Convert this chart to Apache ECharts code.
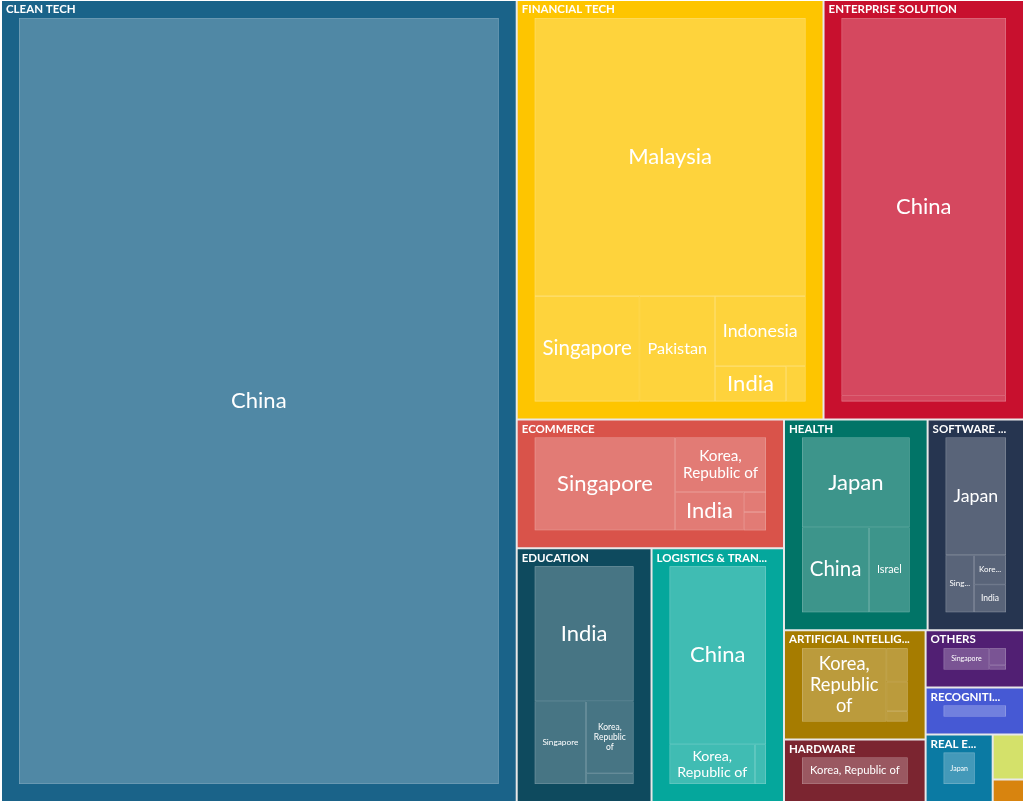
<!DOCTYPE html>
<html>
<head>
<meta charset="utf-8">
<script src="https://cdn.jsdelivr.net/npm/echarts/dist/echarts.min.js"></script>
<style>
html,body{margin:0;padding:0;background:#ffffff;}
#chart{width:1024px;height:802px;}
</style>
</head>
<body>
<div id="chart"></div>
<script>
// ---------------- DATA ----------------
const categories = [
  'Clean Tech', 'Financial Tech', 'Enterprise Solution', 'Ecommerce', 'Education',
  'Logistics & Transportation', 'Health', 'Software Development', 'Artificial Intelligence',
  'Hardware', 'Others', 'Recognition Technology', 'Real Estate', 'Media', 'Travel'
];
const countries = [
  ['China'],
  ['Malaysia', 'Singapore', 'Pakistan', 'Indonesia', 'India', 'Vietnam'],
  ['China', 'Singapore'],
  ['Singapore', 'Korea, Republic of', 'India', 'Philippines', 'Vietnam'],
  ['India', 'Singapore', 'Korea, Republic of', 'China'],
  ['China', 'Korea, Republic of', 'Singapore'],
  ['Japan', 'China', 'Israel'],
  ['Japan', 'Singapore', 'Korea, Republic of', 'India'],
  ['Korea, Republic of', 'China', 'Japan', 'Singapore'],
  ['Korea, Republic of'],
  ['Singapore', 'India', 'Japan'],
  ['China'],
  ['Japan'],
  ['Singapore'],
  ['Japan']
];
const values = [
  [4112],
  [928, 136, 98, 78, 31, 8.5],
  [823, 13],
  [208, 79, 42, 7.1, 6.5],
  [211, 67, 54, 8],
  [273, 54, 7],
  [155, 91, 55],
  [136, 31, 18, 17],
  [123, 14, 12.5, 4.3],
  [88],
  [41, 12, 3],
  [46],
  [45],
  [14],
  [7]
];

// ---------------- STYLE ----------------
const categoryColors = [
  '#1a6389', '#fec500', '#c8102e', '#d9534a', '#0e4a5e',
  '#05a79c', '#017467', '#263550', '#a67c00',
  '#7b2530', '#511f73', '#4659d4', '#0b7aa3', '#d4e16a', '#d8840f'
];
const gapColor = '#e8e8e8';
const FONT = 'Lato';

function mix(hex, t) {
  const n = parseInt(hex.slice(1), 16);
  const r = n >> 16, g = (n >> 8) & 255, b = n & 255;
  const f = c => Math.round(c + (255 - c) * t);
  return 'rgb(' + f(r) + ',' + f(g) + ',' + f(b) + ')';
}

// d3-style binary partition of a value-sorted list into nested pairs
function binaryNest(nodes, makeGroup) {
  if (nodes.length === 1) return nodes[0];
  const sums = [0];
  nodes.forEach((n, i) => sums.push(sums[i] + n.value));
  function part(i, j) {
    if (j - i === 1) return nodes[i];
    const value = sums[j] - sums[i];
    const target = value / 2 + sums[i];
    let k = i + 1, hi = j - 1;
    while (k < hi) {
      const mid = (k + hi) >>> 1;
      if (sums[mid] < target) k = mid + 1; else hi = mid;
    }
    if ((target - sums[k - 1]) < (sums[k] - target) && i + 1 < k) --k;
    const l = part(i, k), r = part(k, j);
    return makeGroup(l, r, l.value + r.value);
  }
  return part(0, nodes.length);
}

const upperBase = {
  show: true, height: 17, color: '#ffffff', fontFamily: FONT, fontWeight: 'bold',
  fontSize: 11.5, position: [-13, '50%'], verticalAlign: 'middle', align: 'left',
  padding: [0, -18, 0, 0], overflow: 'truncate', ellipsis: '...',
  formatter: p => p.name.toUpperCase()
};
const leafLabelBase = {
  show: true, color: '#ffffff', fontFamily: FONT, fontWeight: 'normal',
  position: 'inside', padding: 0, overflow: 'none'
};

const leafRefs = {};
const catRefs = {};

function buildData() {
  const cats = categories.map((name, ci) => {
    const col = categoryColors[ci];
    const leafColor = mix(col, 0.235);
    const lineColor = mix(col, 0.45);
    const leaves = countries[ci].map((c, li) => {
      const key = 'L' + ci + '_' + li;
      const obj = {
        name: c, value: values[ci][li], _leafKey: key,
        itemStyle: { color: leafColor, borderColor: lineColor, borderWidth: 0.6, gapWidth: 0 },
        label: { show: false }
      };
      leafRefs[key] = obj;
      return obj;
    }).sort((a, b) => b.value - a.value);
    const inner = binaryNest(leaves, (l, r, v) => ({
      name: name, value: v, children: [l, r],
      itemStyle: { borderWidth: 0, gapWidth: 0, borderColor: col, color: col },
      upperLabel: { show: false }, label: { show: false }
    }));
    const total = leaves.reduce((s, l) => s + l.value, 0);
    const cat = {
      name: name, value: total, _catKey: 'C' + ci, children: [inner],
      itemStyle: { borderWidth: 17, gapWidth: 0, borderColor: col, color: col },
      upperLabel: Object.assign({}, upperBase),
      label: { show: false }
    };
    catRefs['C' + ci] = cat;
    return cat;
  }).sort((a, b) => b.value - a.value);
  const top = binaryNest(cats, (l, r, v) => ({
    name: '', value: v, children: [l, r],
    itemStyle: { borderWidth: 0, gapWidth: 2, borderColor: gapColor, color: gapColor },
    upperLabel: { show: false }, label: { show: false }
  }));
  return top.children;
}

const seriesData = buildData();

const option = {
  animation: false,
  backgroundColor: '#ffffff',
  tooltip: { show: false },
  series: [{
    type: 'treemap',
    left: 2, top: 1, right: 1, bottom: 1,
    roam: false, nodeClick: false, drillDownIcon: '',
    breadcrumb: { show: false },
    sort: false, squareRatio: 1, visibleMin: 0,
    animation: false,
    levels: [{
      itemStyle: { borderWidth: 0, gapWidth: 2, borderColor: gapColor, color: gapColor },
      upperLabel: { show: false }, label: { show: false }
    }],
    data: seriesData
  }]
};

// ---------------- label fitting ----------------
const measureCtx = document.createElement('canvas').getContext('2d');
function textW(t, s) { measureCtx.font = s + 'px ' + FONT; return measureCtx.measureText(t).width; }
function wrap(text, aw, s) {
  const words = text.split(' ');
  const lines = []; let cur = '';
  for (const wd of words) {
    const cand = cur ? cur + ' ' + wd : wd;
    if (textW(cand, s) <= aw) cur = cand;
    else {
      if (!cur) return null;
      if (textW(wd, s) > aw) return null;
      lines.push(cur); cur = wd;
    }
  }
  if (cur) lines.push(cur);
  return lines;
}
function fitLabel(text, w, h) {
  if (w < 22 || h < 19) return null;
  const pad = Math.min(7, w * 0.2), vpad = 2, lh = 1.15;
  const aw = w - 2 * pad, ah = h - 2 * vpad;
  for (let s = 22; s >= 6.5; s -= 0.25) {
    const lines = aw > 0 ? wrap(text, aw, s) : null;
    if (lines && lines.length * s * lh <= ah) return { s: s, text: lines.join('\n') };
  }
  const s = 8, aw2 = w - 6;
  for (let n = text.length - 1; n >= 1; n--) {
    const t = text.slice(0, n).replace(/[\s,]+$/, '') + '...';
    if (textW(t, s) <= aw2) return { s: s, text: t };
  }
  return null;
}

const chart = echarts.init(document.getElementById('chart'), null, { renderer: 'canvas' });
chart.setOption(option);

try {
  const sm = chart.getModel().getSeriesByIndex(0);
  const d = sm.getData();
  for (let i = 0; i < d.count(); i++) {
    const raw = d.getRawDataItem(i);
    const lay = d.getItemLayout(i);
    if (!raw || !lay) continue;
    if (raw._leafKey && leafRefs[raw._leafKey]) {
      const obj = leafRefs[raw._leafKey];
      const bw = lay.borderWidth || 0;
      const fit = fitLabel(obj.name, lay.width - 2 * bw, lay.height - 2 * bw);
      obj.label = fit
        ? Object.assign({}, leafLabelBase, { fontSize: fit.s, lineHeight: Math.round(fit.s * 1.15 * 10) / 10, formatter: fit.text })
        : { show: false };
    }
    if (raw._catKey && catRefs[raw._catKey]) {
      if (lay.width < 45) catRefs[raw._catKey].upperLabel = { show: false };
    }
  }
} catch (e) {
  Object.keys(leafRefs).forEach(k => {
    leafRefs[k].label = Object.assign({}, leafLabelBase, { fontSize: 14, overflow: 'break' });
  });
}
chart.setOption(option, true);
</script>
</body>
</html>
